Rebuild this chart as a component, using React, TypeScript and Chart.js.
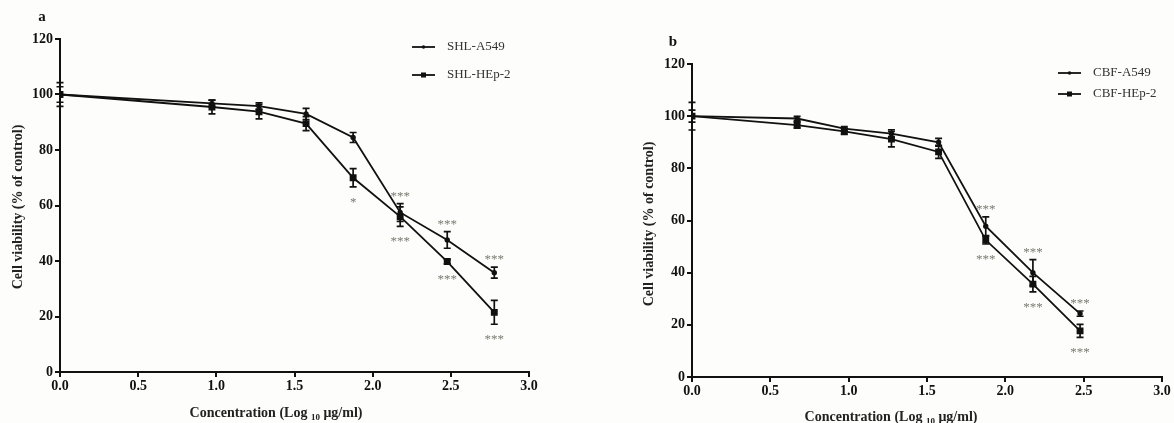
import React, { useEffect, useRef } from 'react';
import { Chart, registerables } from 'chart.js';

Chart.register(...registerables);

const FONT = "'Liberation Serif', 'Times New Roman', serif";

// Panel a (SHL)
const xA = [0, 0.972, 1.273, 1.574, 1.875, 2.176, 2.477, 2.778];
const a549A = [100, 96.8, 95.8, 93, 84.5, 57.5, 47.6, 35.8];
const a549AErr = [2.8, 1.2, 1.2, 2, 1.8, 3.2, 3, 2];
const hep2A = [100, 95.5, 93.8, 89.5, 70, 56, 39.8, 21.5];
const hep2AErr = [4.3, 2.5, 2.6, 2.5, 3.3, 3.5, 0.8, 4.3];
const starsA549A = ['', '', '', '', '', '***', '***', '***'];
const starsHep2A = ['', '', '', '', '*', '***', '***', '***'];
const legendA = ['SHL-A549', 'SHL-HEp-2'];

// Panel b (CBF)
const xB = [0, 0.671, 0.972, 1.273, 1.574, 1.875, 2.176, 2.477];
const a549B = [100, 99.1, 95.2, 93.3, 90, 57.8, 40, 24.3];
const a549BErr = [2.3, 0.8, 0.8, 1.5, 1.5, 3.6, 5, 1];
const hep2B = [100, 96.6, 94.2, 91.2, 86.3, 52.5, 35.6, 17.7];
const hep2BErr = [5.3, 1.2, 1.2, 3, 2.5, 1.5, 3, 2.5];
const starsA549B = ['', '', '', '', '', '***', '***', '***'];
const starsHep2B = ['', '', '', '', '', '***', '***', '***'];
const legendB = ['CBF-A549', 'CBF-HEp-2'];

const yTitle = 'Cell viability (% of control)';

type Panel = {
  letter: string;
  letterPos: [number, number];
  width: number;
  height: number;
  area: { left: number; top: number; right: number; bottom: number };
  x: number[];
  s1: number[];
  e1: number[];
  s2: number[];
  e2: number[];
  st1: string[];
  st2: string[];
  legend: string[];
  legendX: [number, number, number];
  legendY: [number, number];
  yTitlePos: [number, number];
  xTitlePos: [number, number];
};

function makeChart(canvas: HTMLCanvasElement, p: Panel) {
  const pts = (vals: number[]) => p.x.map((x, i) => ({ x, y: vals[i] }));
  const plugin = {
    id: 'extras' + p.letter,
    afterDatasetsDraw(chart: any) {
      const ctx = chart.ctx as CanvasRenderingContext2D;
      const xs = chart.scales.x;
      const ys = chart.scales.y;
      ctx.save();
      // error bars
      const bars = (vals: number[], errs: number[]) => {
        ctx.strokeStyle = '#111';
        ctx.lineWidth = 1.7;
        vals.forEach((v, i) => {
          const px = xs.getPixelForValue(p.x[i]);
          const t = ys.getPixelForValue(v + errs[i]);
          const b = ys.getPixelForValue(v - errs[i]);
          ctx.beginPath();
          ctx.moveTo(px, t);
          ctx.lineTo(px, b);
          ctx.moveTo(px - 3.5, t);
          ctx.lineTo(px + 3.5, t);
          ctx.moveTo(px - 3.5, b);
          ctx.lineTo(px + 3.5, b);
          ctx.stroke();
        });
      };
      bars(p.s1, p.e1);
      bars(p.s2, p.e2);
      // asterisks
      ctx.fillStyle = '#7a7a72';
      ctx.font = `13px ${FONT}`;
      ctx.textAlign = 'center';
      ctx.textBaseline = 'alphabetic';
      p.st1.forEach((s, i) => {
        if (!s) return;
        const px = xs.getPixelForValue(p.x[i]);
        const t = ys.getPixelForValue(p.s1[i] + p.e1[i]);
        ctx.fillText(s, px, t - 11 + 7);
      });
      p.st2.forEach((s, i) => {
        if (!s) return;
        const px = xs.getPixelForValue(p.x[i]);
        const b = ys.getPixelForValue(p.s2[i] - p.e2[i]);
        ctx.fillText(s, px, b + 12 + 7);
      });
      // legend
      p.legend.forEach((label, i) => {
        const y = p.legendY[i];
        ctx.strokeStyle = '#111';
        ctx.lineWidth = 1.8;
        ctx.beginPath();
        ctx.moveTo(p.legendX[0], y);
        ctx.lineTo(p.legendX[1], y);
        ctx.stroke();
        const cx = (p.legendX[0] + p.legendX[1]) / 2;
        ctx.fillStyle = '#111';
        if (i === 0) {
          ctx.beginPath();
          ctx.arc(cx, y, 1.8, 0, Math.PI * 2);
          ctx.fill();
        } else {
          ctx.fillRect(cx - 2.5, y - 2.5, 5, 5);
        }
        ctx.fillStyle = '#333';
        ctx.font = `13px ${FONT}`;
        ctx.textAlign = 'left';
        ctx.textBaseline = 'middle';
        ctx.fillText(label, p.legendX[2], y);
      });
      // panel letter
      ctx.fillStyle = '#111';
      ctx.font = `bold 15px ${FONT}`;
      ctx.textAlign = 'center';
      ctx.textBaseline = 'middle';
      ctx.fillText(p.letter, p.letterPos[0], p.letterPos[1]);
      // y title
      ctx.save();
      ctx.translate(p.yTitlePos[0], p.yTitlePos[1]);
      ctx.rotate(-Math.PI / 2);
      ctx.font = `bold 14px ${FONT}`;
      ctx.fillStyle = '#222';
      ctx.textAlign = 'center';
      ctx.textBaseline = 'middle';
      ctx.fillText(yTitle, 0, 0);
      ctx.restore();
      // x title with subscript
      const partA = 'Concentration (Log ';
      const partSub = '10';
      const partC = ' μg/ml)';
      ctx.fillStyle = '#222';
      ctx.textAlign = 'left';
      ctx.textBaseline = 'alphabetic';
      ctx.font = `bold 14px ${FONT}`;
      const wA = ctx.measureText(partA).width;
      const wC = ctx.measureText(partC).width;
      ctx.font = `bold 9px ${FONT}`;
      const wS = ctx.measureText(partSub).width;
      const total = wA + wS + wC;
      let tx = p.xTitlePos[0] - total / 2;
      const base = p.xTitlePos[1] + 5;
      ctx.font = `bold 14px ${FONT}`;
      ctx.fillText(partA, tx, base);
      tx += wA;
      ctx.font = `bold 9px ${FONT}`;
      ctx.fillText(partSub, tx, base + 3);
      tx += wS;
      ctx.font = `bold 14px ${FONT}`;
      ctx.fillText(partC, tx, base);
      ctx.restore();
    },
  };

  const tickFont = { family: FONT, size: 14, weight: 'bold' as const };
  return new Chart(canvas, {
    type: 'line',
    data: {
      datasets: [
        {
          label: p.legend[0],
          data: pts(p.s1),
          borderColor: '#111',
          backgroundColor: '#111',
          borderWidth: 1.8,
          pointStyle: 'circle',
          pointRadius: 1.8,
          tension: 0,
        },
        {
          label: p.legend[1],
          data: pts(p.s2),
          borderColor: '#111',
          backgroundColor: '#111',
          borderWidth: 1.8,
          pointStyle: 'rect',
          pointRadius: 3.6,
          tension: 0,
        },
      ],
    },
    options: {
      animation: false,
      responsive: false,
      maintainAspectRatio: false,
      layout: {
        padding: {
          left: 0,
          top: p.area.top,
          right: p.width - p.area.right,
          bottom: 0,
        },
      },
      plugins: {
        legend: { display: false },
        tooltip: { enabled: false },
        title: { display: false },
      },
      scales: {
        x: {
          type: 'linear',
          min: 0,
          max: 3,
          afterFit: (s: any) => {
            s.height = p.height - p.area.bottom;
          },
          ticks: {
            stepSize: 0.5,
            font: tickFont,
            color: '#111',
            padding: 1,
            maxRotation: 0,
            callback: (v: any) => Number(v).toFixed(1),
          },
          grid: {
            display: true,
            drawOnChartArea: false,
            drawTicks: true,
            tickLength: 5,
            color: '#111',
            lineWidth: 2,
          },
          border: { display: true, color: '#111', width: 2 },
        },
        y: {
          type: 'linear',
          min: 0,
          max: 120,
          afterFit: (s: any) => {
            s.width = p.area.left;
          },
          ticks: {
            stepSize: 20,
            font: tickFont,
            color: '#111',
            padding: 2,
          },
          grid: {
            display: true,
            drawOnChartArea: false,
            drawTicks: true,
            tickLength: 5,
            color: '#111',
            lineWidth: 2,
          },
          border: { display: true, color: '#111', width: 2 },
        },
      },
    },
    plugins: [plugin],
  } as any);
}

const panelA: Panel = {
  letter: 'a',
  letterPos: [42, 17],
  width: 590,
  height: 423,
  area: { left: 60, top: 39, right: 529, bottom: 372 },
  x: xA,
  s1: a549A,
  e1: a549AErr,
  s2: hep2A,
  e2: hep2AErr,
  st1: starsA549A,
  st2: starsHep2A,
  legend: legendA,
  legendX: [412, 435, 447],
  legendY: [47, 75],
  yTitlePos: [18, 207],
  xTitlePos: [276, 412],
};

const panelB: Panel = {
  letter: 'b',
  letterPos: [83, 42],
  width: 584,
  height: 423,
  area: { left: 102, top: 64, right: 572, bottom: 377 },
  x: xB,
  s1: a549B,
  e1: a549BErr,
  s2: hep2B,
  e2: hep2BErr,
  st1: starsA549B,
  st2: starsHep2B,
  legend: legendB,
  legendX: [468, 491, 503],
  legendY: [73, 94],
  yTitlePos: [59, 224],
  xTitlePos: [301, 416],
};

function PanelChart({ panel, left }: { panel: Panel; left: number }) {
  const ref = useRef<HTMLCanvasElement | null>(null);
  useEffect(() => {
    if (!ref.current) return;
    const c = makeChart(ref.current, panel);
    return () => c.destroy();
  }, [panel]);
  return (
    <canvas
      ref={ref}
      width={panel.width}
      height={panel.height}
      style={{ position: 'absolute', left, top: 0, width: panel.width, height: panel.height }}
    />
  );
}

export default function App() {
  useEffect(() => {
    document.body.style.margin = '0';
    document.body.style.background = '#fdfdfb';
  }, []);
  return (
    <div
      style={{
        position: 'absolute',
        left: 0,
        top: 0,
        width: 1174,
        height: 423,
        overflow: 'hidden',
        background: '#fdfdfb',
      }}
    >
      <PanelChart panel={panelA} left={0} />
      <PanelChart panel={panelB} left={590} />
    </div>
  );
}
